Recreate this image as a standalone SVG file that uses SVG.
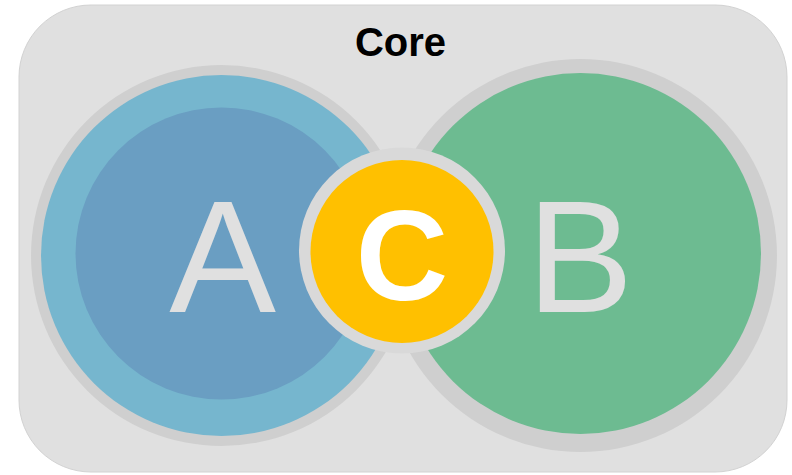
<svg xmlns="http://www.w3.org/2000/svg" width="792" height="475" viewBox="0 0 792 475">
  <style>
    .ring { fill: #cfcfcf; }
    .big { font-family: "Liberation Sans", Arial, sans-serif; font-size: 160px; fill: #e0e0e0; text-anchor: middle; }
    .bold { font-family: "Liberation Sans", Arial, sans-serif; font-weight: bold; text-anchor: middle; }
  </style>
  <g id="core">
    <rect x="19" y="5" width="768" height="467" rx="72" ry="72" fill="#e0e0e0" stroke="#d2d2d2" stroke-width="1"/>
    <text class="bold" x="400.5" y="56" font-size="40" fill="#000000">Core</text>
  </g>
  <g id="node-a">
    <circle class="ring" cx="221.5" cy="255.5" r="190.5"/>
    <circle cx="221.5" cy="255.5" r="180.5" fill="#76b6ce"/>
    <circle cx="221.5" cy="253.5" r="146" fill="#6a9ec2"/>
    <text class="big" x="222.5" y="312">A</text>
  </g>
  <g id="node-b">
    <circle class="ring" cx="580.5" cy="255.5" r="196.5"/>
    <circle cx="580.5" cy="253.5" r="180.5" fill="#6dbb91"/>
    <text class="big" x="580" y="312">B</text>
  </g>
  <g id="node-c">
    <circle cx="402" cy="250.5" r="103" fill="#d9d9d9"/>
    <circle cx="402" cy="251.5" r="91.5" fill="#ffc000"/>
    <text class="bold" x="402" y="300" font-size="128" fill="#ffffff">C</text>
  </g>
  <g id="connectors"/>
</svg>
